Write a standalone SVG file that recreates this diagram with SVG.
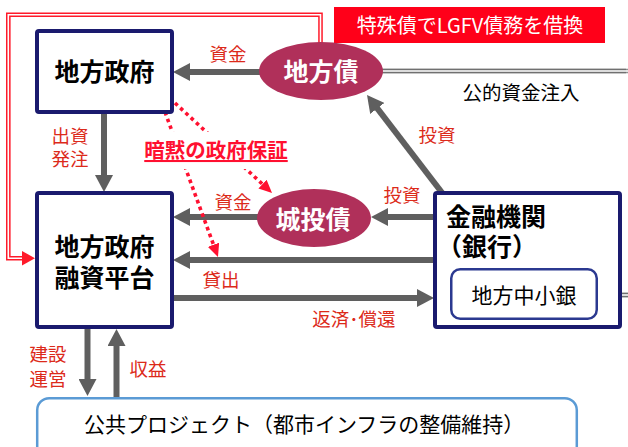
<svg xmlns="http://www.w3.org/2000/svg" width="628" height="447" viewBox="0 0 628 447">
<defs>
<style>
text{font-family:"Noto Sans CJK JP","Noto Sans",sans-serif;}
.box{fill:#fff;stroke:#1a1a6e;stroke-width:4;}
.bt{font-size:25px;font-weight:bold;fill:#000;}
.ell{fill:#b0305a;}
.et{font-size:25px;font-weight:bold;fill:#fff;text-anchor:middle;}
.lbl{font-size:18.5px;fill:#dc2a1a;text-anchor:middle;}
.arr{stroke:#5f5f5f;stroke-width:6;fill:none;marker-end:url(#ga);}
.dot{stroke:#ff1030;stroke-width:3.6;stroke-dasharray:3.6 3.6;fill:none;marker-end:url(#ra);}
</style>
<marker id="ga" markerUnits="userSpaceOnUse" markerWidth="18" markerHeight="18" refX="7" refY="9" orient="auto">
<path d="M0,0 L17,9 L0,18 z" fill="#5f5f5f"/>
</marker>
<marker id="ra" markerUnits="userSpaceOnUse" markerWidth="13" markerHeight="12" refX="9" refY="6" orient="auto">
<path d="M0,0 L13,6 L0,12 z" fill="#ff1030"/>
</marker>
</defs>
<rect width="628" height="447" fill="#fff"/>

<g id="connectors">
<!-- red double line -->
<path d="M320.5,44 V14.8 H8.3 V258.2 H23" fill="none" stroke="#ff1a2a" stroke-width="4.6"/>
<path d="M320.5,44 V14.8 H8.3 V258.2 H23" fill="none" stroke="#fff" stroke-width="1.6"/>
<polygon points="22,251 35,258.2 22,265.5" fill="#ff1a2a"/>
<!-- gray double line -->
<path d="M380,71 H630.8 V295 H609" fill="none" stroke="#909090" stroke-width="4.6"/>
<path d="M380,71 H630.8 V295 H609" fill="none" stroke="#fff" stroke-width="1.6"/>
<path d="M380,71 H626 M628,295 H609" fill="none" stroke="#707070" stroke-width="4.6"/>
<path d="M380,71 H626 M628,295 H609" fill="none" stroke="#fff" stroke-width="1.6"/>
<polygon points="598,295 610,288 610,302" fill="#5f5f5f"/>
<!-- gray arrows -->
<line class="arr" x1="262" y1="72" x2="183" y2="72"/>
<line class="arr" x1="104" y1="112" x2="104" y2="182"/>
<line class="arr" x1="260" y1="217" x2="183" y2="217"/>
<line class="arr" x1="436" y1="217" x2="381" y2="217"/>
<line class="arr" x1="443" y1="194" x2="373.1" y2="102.9"/>
<line class="arr" x1="436" y1="260" x2="183" y2="260"/>
<line class="arr" x1="172" y1="298" x2="424" y2="298"/>
<line class="arr" x1="87.5" y1="328" x2="87.5" y2="386"/>
<line class="arr" x1="116.5" y1="398" x2="116.5" y2="339"/>
<!-- dotted red -->
<line class="dot" x1="175" y1="103" x2="269.1" y2="190.3"/>
<line class="dot" x1="165" y1="112" x2="216.6" y2="253.2"/>
</g>

<g id="label-guarantee">
<rect x="143" y="132" width="148" height="37" fill="#fff"/>
<text x="216" y="158" font-size="20.5" font-weight="bold" fill="#ff1030" text-anchor="middle" text-decoration="underline">暗黙の政府保証</text>
</g>

<g id="labels">
<text class="lbl" x="228" y="61">資金</text>
<text class="lbl" x="70" y="143">出資</text>
<text class="lbl" x="70" y="166">発注</text>
<text class="lbl" x="233" y="209">資金</text>
<text class="lbl" x="402" y="202">投資</text>
<text class="lbl" x="437" y="142">投資</text>
<text class="lbl" x="221" y="287">貸出</text>
<text class="lbl" x="354" y="326">返済･償還</text>
<text class="lbl" x="48" y="361">建設</text>
<text class="lbl" x="48" y="386">運営</text>
<text class="lbl" x="148" y="376">収益</text>
<text x="521" y="100" font-size="19.5" fill="#000" text-anchor="middle">公的資金注入</text>
</g>

<g id="note">
<rect x="334" y="7" width="271" height="36" fill="#ff0019"/>
<text x="470" y="33" font-size="20" fill="#fff" text-anchor="middle">特殊債でLGFV債務を借換</text>
</g>

<g id="local-gov">
<rect class="box" x="37" y="31" width="135" height="81" rx="2"/>
<text class="bt" x="104.5" y="81" text-anchor="middle">地方政府</text>
</g>

<g id="lgfv">
<rect class="box" x="37" y="193" width="135" height="134" rx="2"/>
<text class="bt" x="104.5" y="256" text-anchor="middle">地方政府</text>
<text class="bt" x="104.5" y="287" text-anchor="middle">融資平台</text>
</g>

<g id="bank">
<rect class="box" x="435" y="193" width="185" height="134" rx="2"/>
<text class="bt" x="446" y="226">金融機関</text>
<text class="bt" x="437" y="256">（銀行）</text>
</g>

<g id="local-bank">
<rect x="451.25" y="269.25" width="145.5" height="49.5" rx="9" fill="#fff" stroke="#2b3990" stroke-width="2.5"/>
<text x="524" y="303" font-size="21" fill="#000" text-anchor="middle">地方中小銀</text>
</g>

<g id="local-bond">
<ellipse class="ell" cx="321" cy="71" rx="62" ry="29"/>
<text class="et" x="321" y="81">地方債</text>
</g>

<g id="lgfv-bond">
<ellipse class="ell" cx="314" cy="218" rx="57" ry="29"/>
<text class="et" x="313" y="229">城投債</text>
</g>

<g id="project">
<rect x="37.2" y="398.2" width="539.6" height="60" rx="12" fill="#fff" stroke="#5b9bd5" stroke-width="2.5"/>
<text x="84" y="432" font-size="21" fill="#000">公共プロジェクト（都市インフラの整備維持）</text>
</g>
</svg>
